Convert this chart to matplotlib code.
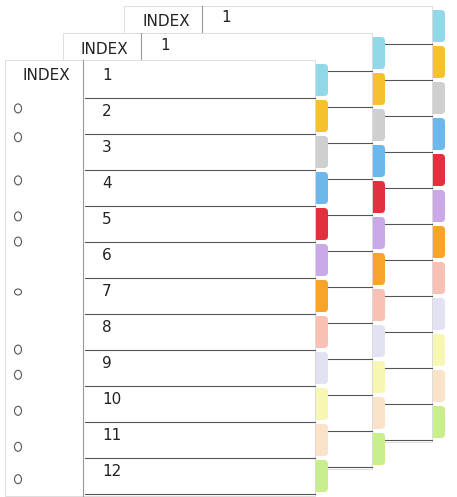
import matplotlib
matplotlib.use("Agg")
import matplotlib.pyplot as plt
from matplotlib.patches import Rectangle, FancyBboxPatch, Ellipse

labels = [str(i) for i in range(1, 13)]
tab_colors = ["#93d8e8", "#f5c22e", "#cfcfcf", "#6cb8ea", "#e3303f", "#c9a9e8",
              "#f6a42a", "#f9c1b3", "#e3e2f3", "#f7f6b2", "#fbe3c9", "#c8ef8b"]
header = "INDEX"
hole_rows = [0.9, 1.7, 2.9, 3.9, 4.6, 6.0, 7.6, 8.3, 9.3, 10.3, 11.2]

W, H = 457, 497
fig = plt.figure(figsize=(W / 100, H / 100), dpi=100)
ax = fig.add_axes([0, 0, 1, 1])
ax.set_xlim(0, W)
ax.set_ylim(H, 0)
ax.axis("off")

row_h = 36

def sheet(x0, y0, width, front):
    z = 10 if front else (5 if x0 < 100 else 1)
    total = row_h * 12 + 4
    ax.add_patch(Rectangle((x0, y0), width, total, fc="white", ec="#d8d8d8", lw=0.6, zorder=z))
    for i, c in enumerate(tab_colors):
        ty = y0 + 4 + i * row_h
        ax.add_patch(FancyBboxPatch((x0 + width - 4, ty), 17, row_h - 4,
                                    boxstyle="round,pad=0,rounding_size=4",
                                    fc=c, ec="none", zorder=z - 0.5))
        ax.plot([x0 + 80, x0 + width], [ty + row_h - 2] * 2, color="#555555", lw=0.8, zorder=z + 0.1)
    ax.plot([x0 + 78, x0 + 78], [y0, y0 + (total if front else 26)], color="#999999", lw=0.8, zorder=z + 0.1)
    ax.text(x0 + 18, y0 + 16, header, fontsize=11, va="center", zorder=z + 0.2, color="#222222")
    if front:
        for i, lab in enumerate(labels):
            ax.text(x0 + 97, y0 + 16 + i * row_h, lab, fontsize=11, va="center", zorder=z + 0.2, color="#222222")
        for r in hole_rows:
            ax.add_patch(Ellipse((x0 + 13, y0 + 16 + r * row_h), 7, 9 if r % 1 else 6,
                                 fc="white", ec="#555555", lw=0.8, zorder=z + 0.2))
    else:
        ax.text(x0 + 97, y0 + 12, labels[0], fontsize=11, va="center", zorder=z + 0.2, color="#222222")

sheet(124, 6, 308, False)
sheet(63, 33, 309, False)
sheet(5, 60, 310, True)

fig.savefig("out.png", dpi=100, facecolor="white")
